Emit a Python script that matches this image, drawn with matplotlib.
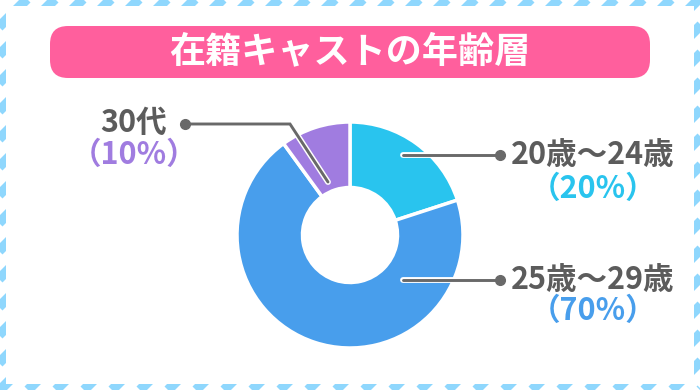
import matplotlib

matplotlib.use("Agg")
import matplotlib.pyplot as plt
import matplotlib.patheffects as pe
from matplotlib.patches import FancyBboxPatch, Rectangle

plt.rcParams["font.family"] = ["Noto Sans CJK JP", "DejaVu Sans"]

title = "在籍キャストの年齢層"
labels = ["20歳〜24歳", "25歳〜29歳", "30代"]
shares = [20, 70, 10]
colors = ["#29c4ee", "#489eec", "#a07ce0"]

W, H = 700, 390
TEXT_GRAY = "#5c5c5c"
LINE_GRAY = "#696969"
STRIPE = "#8fd7fd"
PINK = "#ff5f9d"


def y(row):
    # image row (top-down) -> axis y (bottom-up)
    return H - row


fig = plt.figure(figsize=(7, 3.9), dpi=100)
ax = fig.add_axes([0, 0, 1, 1])

# striped frame
for c in range(-420, 720, 28):
    ax.plot([c, c + 420], [0, 420], color=STRIPE, lw=7.1,
            solid_capstyle="butt", zorder=0)
ax.add_patch(Rectangle((6, 6), W - 12, H - 12, facecolor="white",
                       edgecolor="none", zorder=1))

# title pill
ax.add_patch(FancyBboxPatch((50, y(78)), 600, 52,
                            boxstyle="round,pad=0,rounding_size=18",
                            facecolor=PINK, edgecolor="none", zorder=2))
ax.text(350, y(52), title, color="white", fontsize=26, fontweight="bold",
        ha="center", va="center", zorder=3)

# donut
ax.pie(shares, colors=colors, startangle=90, counterclock=False,
       radius=113, center=(350, y(235)),
       wedgeprops=dict(width=65.5, edgecolor="white", linewidth=2.5, zorder=2))

# leader lines: (points along the line, image rows)
leaders = [
    ([403, 500], [155, 155]),
    ([403, 500], [280, 280]),
    ([328, 290, 185], [182, 124, 124]),
]
line_kw = dict(color=LINE_GRAY, lw=2.1, solid_capstyle="round",
               solid_joinstyle="miter", zorder=4,
               path_effects=[pe.Stroke(linewidth=4.2, foreground="white"),
                             pe.Normal()])
for xs, rows in leaders:
    ys = [y(r) for r in rows]
    ax.plot(xs, ys, **line_kw)
    ax.plot(xs[-1], ys[-1], "o", ms=7, color=LINE_GRAY, zorder=5)

# label text: x centre, row of name, row of percentage
label_pos = [(593, 155, 189), (593, 280, 311), (134, 123, 155)]
for name, share, col, (lx, r1, r2) in zip(labels, shares, colors, label_pos):
    ax.text(lx, y(r1), name, color=TEXT_GRAY, fontsize=22, fontweight="bold",
            ha="center", va="center", zorder=5)
    ax.text(lx, y(r2), f"（{share}%）", color=col, fontsize=22,
            fontweight="bold", ha="center", va="center", zorder=5)

ax.set_xlim(0, W)
ax.set_ylim(0, H)
ax.set_aspect("auto")
ax.axis("off")

fig.savefig("out.png", dpi=100)
plt.close(fig)
